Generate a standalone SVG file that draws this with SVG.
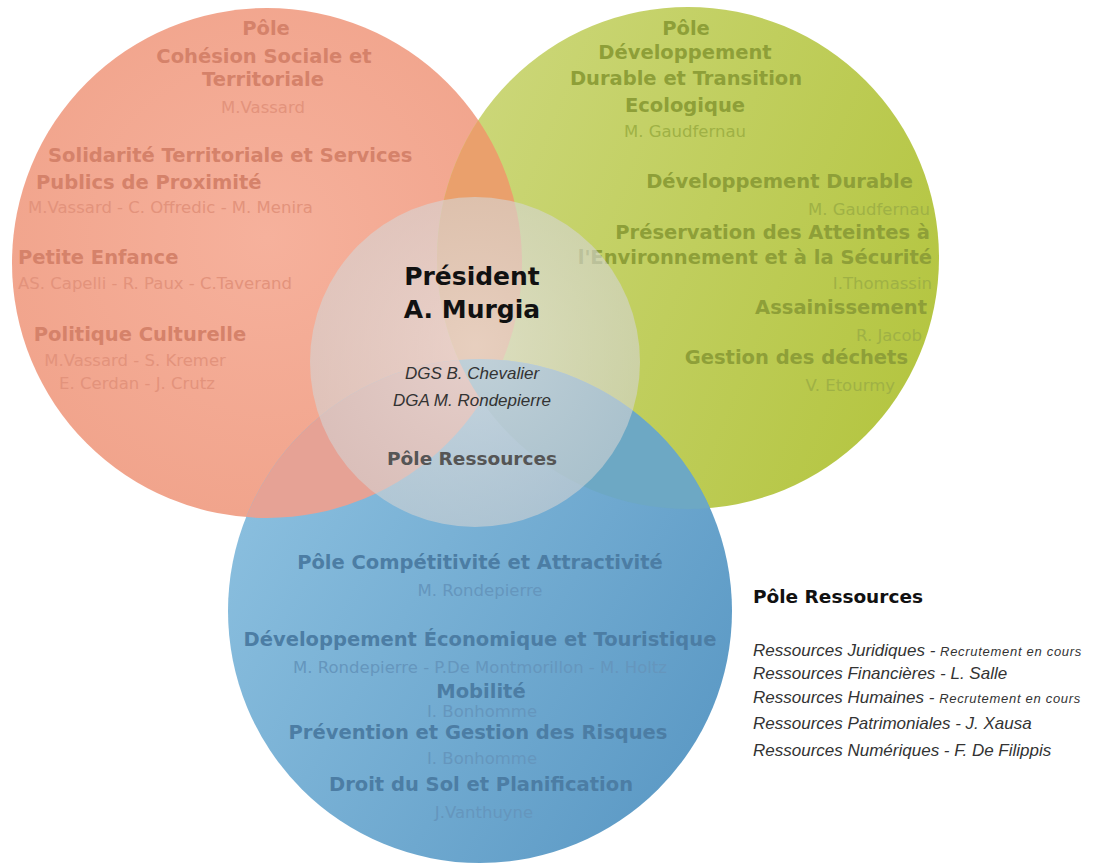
<svg xmlns="http://www.w3.org/2000/svg" width="1102" height="866" viewBox="0 0 1102 866">
<style>
.b{font-family:"DejaVu Sans",sans-serif;font-weight:bold;font-size:19.5px}
.n{font-family:"DejaVu Sans",sans-serif;font-weight:normal;font-size:16.5px}
.i{font-family:"Liberation Sans",Arial,sans-serif;font-style:italic;font-size:17px;fill:#333}
.c{text-anchor:middle}
.e{text-anchor:end}
.rb{fill:#D5826A}.rn{fill:#E3937C}
.gb{fill:#8E9F38}.gn{fill:#9FB145}
.bb{fill:#4C7DA4}.bn{fill:#6596BD}
.sm{font-size:13px;letter-spacing:0.7px}
</style>
<defs>
<clipPath id="clipRed"><circle cx="267" cy="263" r="255"/></clipPath>
<clipPath id="clipGreen"><circle cx="688" cy="258" r="251"/></clipPath>
<radialGradient id="gRed" cx="0.5" cy="0.45" r="0.55"><stop offset="0" stop-color="#F6B19C"/><stop offset="1" stop-color="#F1A48C"/></radialGradient>
<linearGradient id="gGreen" x1="0" y1="0.3" x2="1" y2="0.7"><stop offset="0" stop-color="#CCD77A"/><stop offset="1" stop-color="#B4C540"/></linearGradient>
<linearGradient id="gBlue" x1="0" y1="0.2" x2="1" y2="0.8"><stop offset="0" stop-color="#8DC1E0"/><stop offset="1" stop-color="#5A98C4"/></linearGradient>
<radialGradient id="gCenter" cx="0.5" cy="0.45" r="0.55"><stop offset="0" stop-color="#E6E3E2" stop-opacity="0.7"/><stop offset="1" stop-color="#D2D2D2" stop-opacity="0.6"/></radialGradient>
</defs>
<rect width="1102" height="866" fill="#FFFFFF"/>
<g id="pole-cohesion">
<circle cx="267" cy="263" r="255" fill="url(#gRed)"/>
</g>
<g id="pole-developpement">
<circle cx="688" cy="258" r="251" fill="url(#gGreen)"/>
</g>
<g id="pole-competitivite">
<circle cx="480" cy="611" r="252" fill="url(#gBlue)"/>
</g>
<g id="overlaps">
<g clip-path="url(#clipRed)"><circle cx="688" cy="258" r="251" fill="#EAA06C"/></g>
<g clip-path="url(#clipRed)"><circle cx="480" cy="611" r="252" fill="#E6A295"/></g>
<g clip-path="url(#clipGreen)"><circle cx="480" cy="611" r="252" fill="#6DA8C4"/></g>
</g>
<g id="pole-cohesion-text">
<text class="b rb c" x="266" y="35">Pôle</text>
<text class="b rb c" x="264" y="63">Cohésion Sociale et</text>
<text class="b rb c" x="263" y="86">Territoriale</text>
<text class="n rn c" x="263" y="113">M.Vassard</text>
<text class="b rb" x="48" y="162">Solidarité Territoriale et Services</text>
<text class="b rb" x="36" y="189">Publics de Proximité</text>
<text class="n rn" x="28" y="213">M.Vassard - C. Offredic - M. Menira</text>
<text class="b rb" x="18" y="264">Petite Enfance</text>
<text class="n rn" x="18" y="289">AS. Capelli - R. Paux - C.Taverand</text>
<text class="b rb c" x="140" y="341">Politique Culturelle</text>
<text class="n rn c" x="135" y="366">M.Vassard - S. Kremer</text>
<text class="n rn c" x="137" y="389">E. Cerdan - J. Crutz</text>
</g>
<g id="pole-developpement-text">
<text class="b gb c" x="686" y="35">Pôle</text>
<text class="b gb c" x="685" y="59">Développement</text>
<text class="b gb c" x="686" y="85">Durable et Transition</text>
<text class="b gb c" x="685" y="112">Ecologique</text>
<text class="n gn c" x="685" y="137">M. Gaudfernau</text>
<text class="b gb e" x="913" y="188">Développement Durable</text>
<text class="n gn e" x="930" y="215">M. Gaudfernau</text>
<text class="b gb e" x="930" y="239">Préservation des Atteintes à</text>
<text class="b gb e" x="932" y="264">l'Environnement et à la Sécurité</text>
<text class="n gn e" x="932" y="289">I.Thomassin</text>
<text class="b gb e" x="927" y="314">Assainissement</text>
<text class="n gn e" x="922" y="341">R. Jacob</text>
<text class="b gb e" x="908" y="364">Gestion des déchets</text>
<text class="n gn e" x="895" y="391">V. Etourmy</text>
</g>
<g id="pole-competitivite-text">
<text class="b bb c" x="480" y="569">Pôle Compétitivité et Attractivité</text>
<text class="n bn c" x="480" y="596">M. Rondepierre</text>
<text class="b bb c" x="480" y="646">Développement Économique et Touristique</text>
<text class="n bn c" x="480" y="673">M. Rondepierre - P.De Montmorillon - M. Holtz</text>
<text class="b bb c" x="481" y="698">Mobilité</text>
<text class="n bn c" x="482" y="717">I. Bonhomme</text>
<text class="b bb c" x="478" y="739">Prévention et Gestion des Risques</text>
<text class="n bn c" x="482" y="764">I. Bonhomme</text>
<text class="b bb c" x="481" y="791">Droit du Sol et Planification</text>
<text class="n bn c" x="484" y="818">J.Vanthuyne</text>
</g>
<g id="president">
<circle cx="475" cy="362" r="165" fill="url(#gCenter)"/>
<text class="b c" x="472" y="285" style="font-size:25px;fill:#111">Président</text>
<text class="b c" x="472" y="318" style="font-size:25px;fill:#111">A. Murgia</text>
<text class="i c" x="472" y="379">DGS B. Chevalier</text>
<text class="i c" x="472" y="406">DGA M. Rondepierre</text>
<text class="b c" x="472" y="465" style="font-size:18.5px;fill:#555">Pôle Ressources</text>
</g>
<g id="pole-ressources-legend">
<text class="b" x="753" y="603" style="font-size:18.5px;fill:#111">Pôle Ressources</text>
<text class="i" x="753" y="656">Ressources Juridiques - <tspan class="sm">Recrutement en cours</tspan></text>
<text class="i" x="753" y="679">Ressources Financières - L. Salle</text>
<text class="i" x="753" y="703">Ressources Humaines - <tspan class="sm">Recrutement en cours</tspan></text>
<text class="i" x="753" y="729">Ressources Patrimoniales - J. Xausa</text>
<text class="i" x="753" y="756">Ressources Numériques - F. De Filippis</text>
</g>
<g id="connectors"/>
</svg>
